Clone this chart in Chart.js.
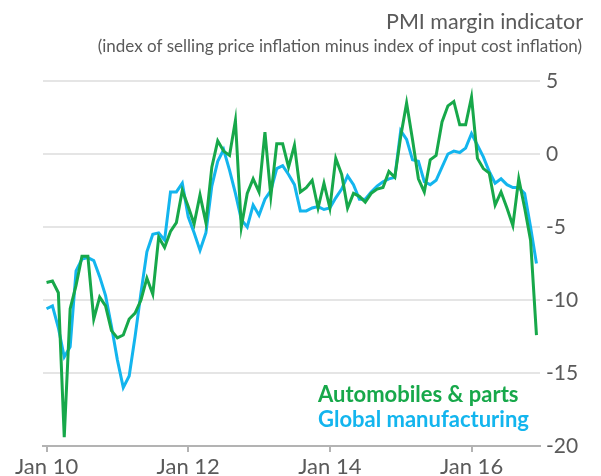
<!DOCTYPE html>
<html>
<head>
<meta charset="utf-8">
<script src="https://cdn.jsdelivr.net/npm/chart.js@4.4.1/dist/chart.umd.min.js"></script>
<style>
  body { margin: 0; background: #fff; }
  #wrap { width: 601px; height: 476px; }
</style>
</head>
<body>
<div id="wrap"><canvas id="pmiChart" width="601" height="476"></canvas></div>
<script>
// monthly, Jan 2010 - Dec 2016
const autos = [
  -8.8, -8.7, -9.5, -19.4, -10.6, -9.0, -7.0, -7.0, -11.3, -9.8, -10.4, -12.1,
  -12.6, -12.4, -11.3, -10.9, -10.0, -8.5, -9.6, -5.7, -6.4, -5.3, -4.7, -2.5,
  -3.6, -4.8, -2.8, -4.7, -0.9, 0.9, 0.2, -0.1, 2.3, -5.0, -2.7, -1.7,
  -2.6, 1.5, -2.9, 0.7, 0.7, -0.9, 0.6, -2.6, -2.3, -1.8, -3.7, -2.0,
  -3.7, -0.3, -1.4, -3.7, -2.7, -2.9, -3.3, -2.7, -2.4, -2.3, -1.2, -1.6,
  1.2, 3.5, 1.0, -1.7, -2.6, -0.4, -0.1, 2.2, 3.3, 3.6, 2.0, 2.0,
  3.9, -0.3, -1.0, -1.3, -3.5, -2.6, -3.7, -4.9, -1.7, -3.7, -5.9, -12.4
];
const globalMfg = [
  -10.6, -10.4, -11.9, -13.9, -13.2, -8.0, -7.2, -7.1, -7.3, -8.4, -9.7, -11.8,
  -14.1, -16.0, -15.2, -12.5, -9.5, -6.7, -5.5, -5.4, -5.9, -2.6, -2.6, -2.0,
  -4.3, -5.4, -6.6, -5.4, -2.2, -0.5, 0.3, -1.1, -2.7, -4.5, -5.0, -3.5,
  -4.2, -3.1, -2.5, -1.0, -0.8, -1.4, -2.1, -3.9, -3.9, -3.7, -3.6, -3.8,
  -3.7, -3.0, -2.4, -1.5, -2.1, -3.1, -3.1, -2.6, -2.2, -1.9, -1.7, -1.6,
  1.6, 1.0, -0.4, -0.5, -1.9, -2.1, -1.8, -0.9, 0.0, 0.2, 0.1, 0.4,
  1.4, 0.6, -0.2, -1.2, -2.0, -1.7, -2.1, -2.3, -2.3, -2.7, -5.0, -7.5
];
const tickMonths = [0, 24, 48, 72];
const tickLabels = ['Jan 10', 'Jan 12', 'Jan 14', 'Jan 16'];
const yTicks = [5, 0, -5, -10, -15, -20];

const GREEN = '#17a84a';
const BLUE = '#13b5ee';
const GREY = '#5a5a5a';
const FONT = 'Lato, "Open Sans", sans-serif';

const toPoints = arr => arr.map((v, i) => ({ x: i, y: v }));

const textPlugin = {
  id: 'texts',
  afterDraw(chart) {
    const ctx = chart.ctx;
    ctx.save();
    ctx.textBaseline = 'middle';
    ctx.fillStyle = GREY;
    ctx.textAlign = 'right';
    ctx.font = '21.5px ' + FONT;
    ctx.fillText('PMI margin indicator', 583, 22);
    ctx.font = '17px ' + FONT;
    ctx.fillText('(index of selling price inflation minus index of input cost inflation)', 582, 47);

    ctx.textAlign = 'left';
    ctx.font = 'bold 22px ' + FONT;
    ctx.fillStyle = GREEN;
    ctx.fillText('Automobiles & parts', 318, 395);
    ctx.fillStyle = BLUE;
    ctx.fillText('Global manufacturing', 318, 420);
    ctx.restore();
  }
};

new Chart(document.getElementById('pmiChart'), {
  type: 'line',
  data: {
    datasets: [
      {
        label: 'Automobiles & parts',
        data: toPoints(autos),
        borderColor: GREEN,
        borderWidth: 3,
        pointRadius: 0,
        tension: 0
      },
      {
        label: 'Global manufacturing',
        data: toPoints(globalMfg),
        borderColor: BLUE,
        borderWidth: 3,
        pointRadius: 0,
        tension: 0
      }
    ]
  },
  options: {
    responsive: false,
    animation: false,
    layout: { padding: { top: 81, left: 43, right: 0, bottom: 0 } },
    plugins: {
      legend: { display: false },
      tooltip: { enabled: false }
    },
    scales: {
      x: {
        type: 'linear',
        min: -0.6,
        max: 83.6,
        afterBuildTicks: axis => { axis.ticks = tickMonths.map(v => ({ value: v })); },
        afterFit: axis => { axis.height = 30; },
        ticks: {
          callback: v => tickLabels[tickMonths.indexOf(v)],
          color: GREY,
          font: { family: FONT, size: 22 },
          padding: 2,
          maxRotation: 0
        },
        grid: {
          drawOnChartArea: false,
          drawTicks: true,
          tickLength: 6,
          color: '#b3b3b3',
          lineWidth: 2
        },
        border: { color: '#b3b3b3', width: 2 }
      },
      y: {
        position: 'right',
        min: -20,
        max: 5,
        afterBuildTicks: axis => { axis.ticks = yTicks.map(v => ({ value: v })); },
        afterFit: axis => { axis.width = 61; },
        ticks: {
          color: GREY,
          font: { family: FONT, size: 21 },
          padding: 6
        },
        grid: {
          drawTicks: false,
          color: ctx => ctx.tick.value === -20 ? 'rgba(0,0,0,0)' : '#e5e5e5',
          lineWidth: 2
        },
        border: { display: false }
      }
    }
  },
  plugins: [textPlugin]
});
</script>
</body>
</html>
